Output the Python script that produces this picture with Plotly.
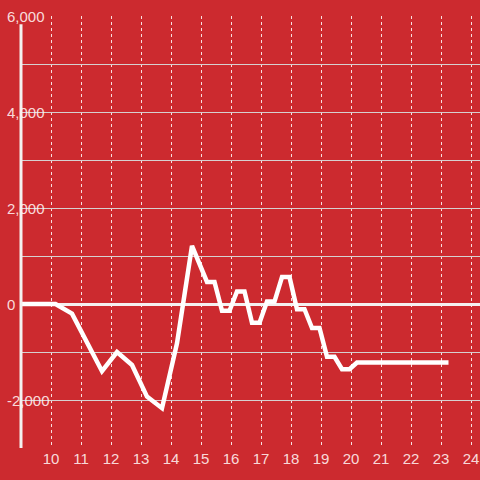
import plotly.graph_objects as go

# hour of day vs cumulative value
hours = [9.0, 10.15, 10.7, 11.2, 11.7, 12.2, 12.7, 13.2, 13.7, 14.2, 14.7, 15.2, 15.45, 15.7, 15.95,
         16.2, 16.45, 16.7, 16.95, 17.2, 17.45, 17.7, 17.95, 18.2, 18.45, 18.7, 18.95, 19.2, 19.45,
         19.7, 19.95, 20.2, 23.25]
values = [0, 0, -200, -780, -1400, -1000, -1270, -1930, -2170, -820, 1210, 460, 460, -140, -140,
          260, 260, -390, -390, 50, 50, 560, 560, -110, -110, -500, -500, -1100, -1100,
          -1360, -1360, -1220, -1220]
x_ticks = list(range(10, 25))
y_ticks = [-2000, 0, 2000, 4000, 6000]

BG = "#cc2a2f"
LABEL = "rgba(255,240,240,0.9)"

fig = go.Figure()
fig.add_trace(go.Scatter(x=hours, y=values, mode="lines", line={"color": "#ffffff", "width": 4.5}, hoverinfo="skip"))

# y tick labels sit over the axis line, left-aligned near the edge
for v in y_ticks:
    fig.add_annotation(x=-0.035, xref="paper", y=v, yref="y", text=f"{v:,}", showarrow=False,
                       xanchor="left", yanchor="middle", font={"size": 15, "color": LABEL})

fig.add_shape(type="line", xref="paper", x0=0, x1=0, yref="y", y0=-3000, y1=5830,
              line={"color": "#f4f0f0", "width": 3}, layer="above")

fig.update_layout(
    width=480,
    height=480,
    margin={"l": 21, "r": 0, "t": 16, "b": 32},
    paper_bgcolor=BG,
    plot_bgcolor=BG,
    showlegend=False,
    font={"family": "Liberation Sans, Arial, sans-serif", "size": 15, "color": LABEL},
    xaxis={
        "range": [9, 24.3],
        "tickvals": x_ticks,
        "showgrid": True,
        "gridcolor": "rgba(255,255,255,0.85)",
        "griddash": "dot",
        "gridwidth": 1,
        "zeroline": False,
        "showline": False,
        "ticks": "",
        "tickfont": {"size": 15, "color": LABEL},
    },
    yaxis={
        "range": [-3000, 6000],
        "dtick": 1000,
        "showticklabels": False,
        "showgrid": True,
        "gridcolor": "#d6d0d0",
        "gridwidth": 1,
        "zeroline": True,
        "zerolinecolor": "#f4f0f0",
        "zerolinewidth": 3,
        "showline": False,
    },
)

fig.write_html(
    "out.html",
    config={"displayModeBar": False},
    post_script="document.body.style.margin='0';document.body.style.background='" + BG + "';",
)
